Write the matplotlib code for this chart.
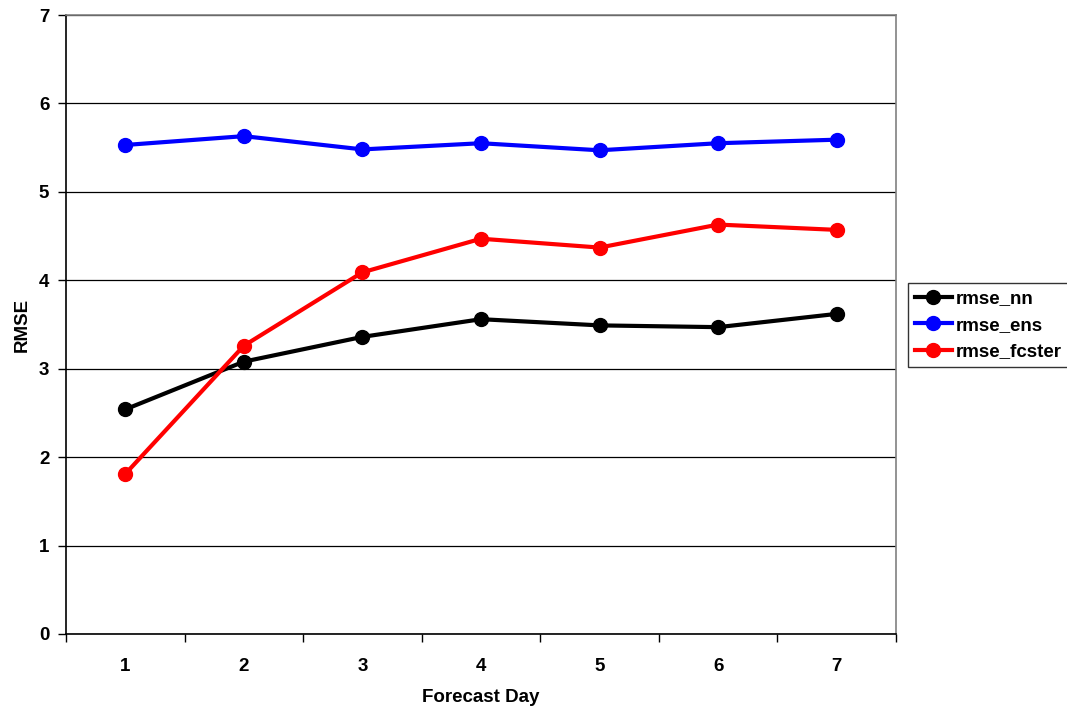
import matplotlib
matplotlib.use("Agg")
import matplotlib.pyplot as plt
import numpy as np

plt.rcParams['font.family'] = ['Liberation Sans', 'DejaVu Sans']

days = ["1", "2", "3", "4", "5", "6", "7"]
rmse_nn = [2.54, 3.08, 3.36, 3.56, 3.49, 3.47, 3.62]
rmse_ens = [5.53, 5.63, 5.48, 5.55, 5.47, 5.55, 5.59]
rmse_fcster = [1.81, 3.26, 4.09, 4.47, 4.37, 4.63, 4.57]

series = [
    ("rmse_nn", rmse_nn, "#000000"),
    ("rmse_ens", rmse_ens, "#0000ff"),
    ("rmse_fcster", rmse_fcster, "#ff0000"),
]

FS = 13.5

fig = plt.figure(figsize=(10.67, 7.07), dpi=100)
ax = fig.add_axes([66 / 1067, 73 / 707, 830 / 1067, 619 / 707])

x = np.arange(len(days)) + 0.5
for name, vals, col in series:
    ax.plot(x, vals, color=col, lw=3, marker="o", markersize=10,
            markerfacecolor=col, markeredgecolor=col, label=name, zorder=3)

ax.set_xlim(0, len(days))
ax.set_ylim(0, 7)
ax.set_yticks(range(0, 8))
ax.yaxis.grid(True, color="black", lw=0.9)
ax.set_axisbelow(True)

# category labels centered, tick marks between categories
ax.set_xticks(np.arange(0, len(days) + 1), minor=False)
ax.set_xticklabels([])
ax.set_xticks(x, minor=True)
ax.set_xticklabels(days, minor=True)
ax.tick_params(axis="x", which="major", direction="out", length=6, width=1, color="black")
ax.tick_params(axis="x", which="minor", length=0, pad=17, labelsize=FS)
ax.tick_params(axis="y", direction="out", length=6, width=1, labelsize=FS, pad=6)
for lbl in ax.get_xticklabels(minor=True) + ax.get_yticklabels():
    lbl.set_fontweight("bold")

ax.spines["left"].set_color("black")
ax.spines["bottom"].set_color("black")
ax.spines["top"].set_color("#808080")
ax.spines["right"].set_color("#808080")
for s in ax.spines.values():
    s.set_linewidth(1.2)

ax.set_xlabel("Forecast Day", fontsize=FS, fontweight="bold", labelpad=10)
ax.set_ylabel("RMSE", fontsize=FS, fontweight="bold", labelpad=6)

leg = ax.legend(loc="center left", bbox_to_anchor=(908 / 1067, 1 - 325 / 707),
                bbox_transform=fig.transFigure, fontsize=FS, frameon=True,
                fancybox=False, handlelength=2.0, handletextpad=0.2,
                borderpad=0.35, labelspacing=0.5, borderaxespad=0)
leg.get_frame().set_edgecolor("black")
leg.get_frame().set_linewidth(1.0)
for t in leg.get_texts():
    t.set_fontweight("bold")

fig.savefig("out.png", dpi=100, facecolor="white")
